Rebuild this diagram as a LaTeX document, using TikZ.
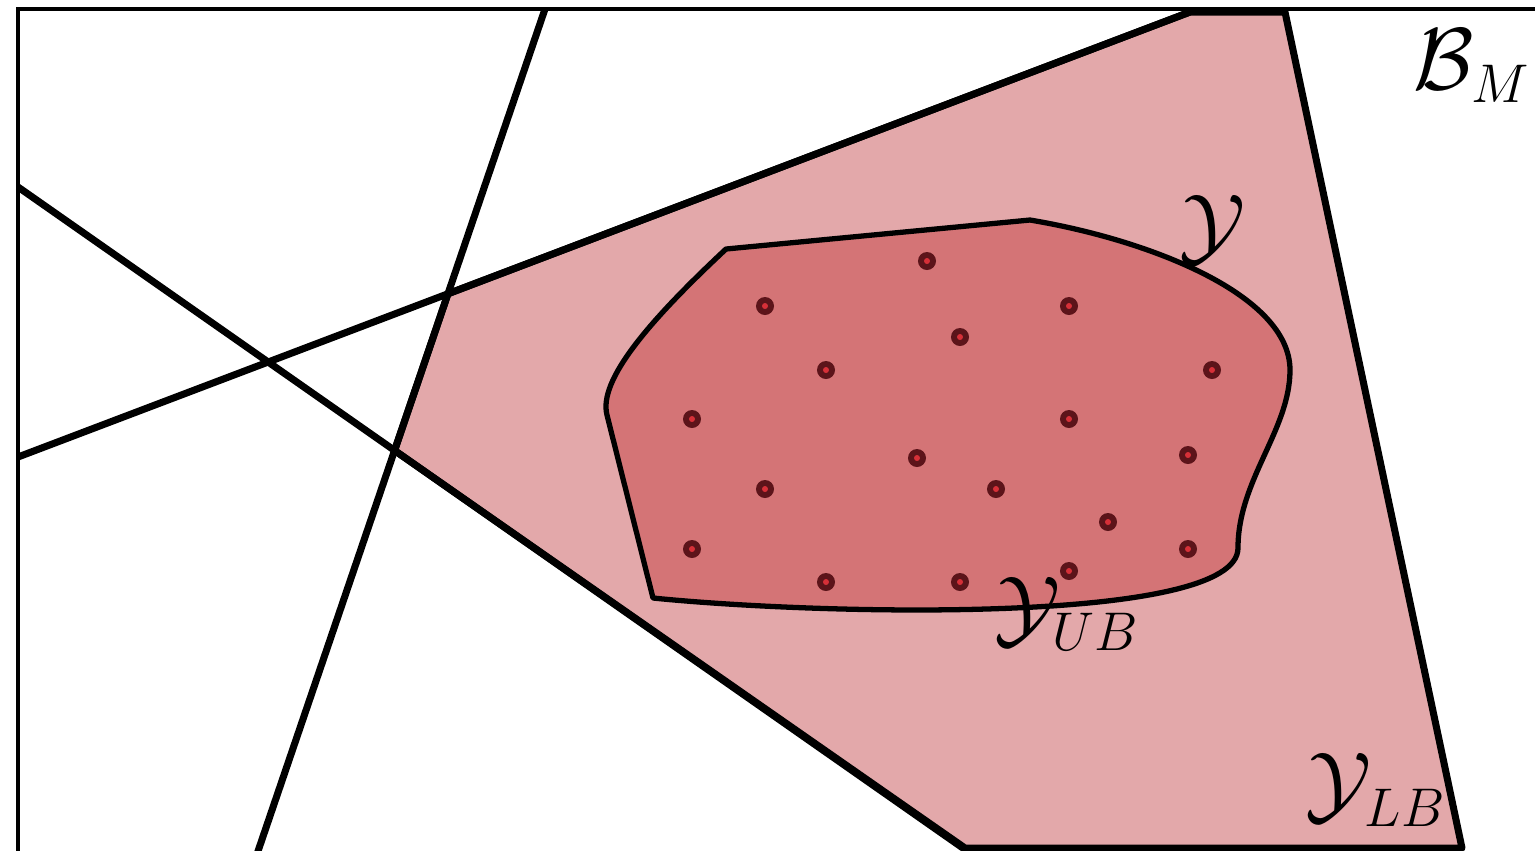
\documentclass[tikz,border=0pt]{standalone}
\usepackage{fix-cm}
\usepackage{amsmath}
\usepackage{amssymb}
\usetikzlibrary{calc}
\definecolor{lbpink}{RGB}{227,168,170}
\definecolor{ubred}{RGB}{212,116,118}
\definecolor{ptdark}{RGB}{92,20,26}
\definecolor{ptred}{RGB}{214,48,56}
\DeclareMathSizes{25}{25}{15.5}{12}

\begin{document}
\begin{tikzpicture}[
    x=0.01cm, y=-0.01cm,
    cut/.style={line width=2pt, color=black},
    frame/.style={line width=1.2pt, color=black},
    region/.style={line width=2pt, draw=black, fill=lbpink, line join=round},
    blob/.style={line width=1.5pt, draw=black, fill=ubred, line join=round},
    pt/.style={circle, fill=ptdark, minimum size=0.18cm, inner sep=0pt},
    ptin/.style={circle, fill=ptred, minimum size=0.06cm, inner sep=0pt},
    lab/.style={font=\fontsize{25}{30}\selectfont, inner sep=0pt}
  ]
    \useasboundingbox (0,0) rectangle (1535,850);
    % cutting lines
    \coordinate (a1) at (545,9);
    \coordinate (a2) at (255,860);
    \coordinate (b1) at (18,187);
    \coordinate (b2) at (980,860);
    \coordinate (c1) at (18,457);
    \coordinate (c2) at (1190,12);
    % outer region Y_LB
    \coordinate (l1) at (intersection of a1--a2 and c1--c2);
    \coordinate (l3) at (1285,12);
    \coordinate (l4) at (1462,848);
    \coordinate (l5) at (965,848);
    \coordinate (l6) at (intersection of a1--a2 and b1--b2);
    \path[region] (l1) -- (c2) -- (l3) -- (l4) -- (l5) -- (l6) -- cycle;
    \draw[cut] (a1) -- (a2);
    \draw[cut] (b1) -- (b2);
    \draw[cut] (c1) -- (c2);
    % frame of B_M
    \draw[frame] (18,870) -- (18,9) -- (1560,9);
    % inner region Y
    \draw[blob] (653,598) -- (607,415)
        .. controls (598,380) and (650,320) .. (726,249)
        -- (1030,220)
        .. controls (1150,240) and (1290,295) .. (1290,370)
        .. controls (1290,430) and (1238,480) .. (1238,548)
        .. controls (1238,625) and (820,615) .. cycle;
    % points of Y
    \foreach \px/\py [count=\i] in {927/261, 765/306, 1069/306, 960/337, 826/370,
        1212/370, 692/419, 1069/419, 917/458, 1188/455, 765/489, 996/489,
        1108/522, 692/549, 1188/549, 826/582, 960/582, 1069/571} {
      \node[pt] (p\i) at (\px,\py) {};
      \node[ptin] at (p\i) {};
    }
    % labels
    \node[lab] (bm) at (1472,66) {$\mathcal{B}_M$};
    \node[lab] (y) at (1212,230) {$\mathcal{Y}$};
    \node[lab] (yub) at (1067,614) {$\mathcal{Y}_{UB}$};
    \node[lab] (ylb) at (1376,790) {$\mathcal{Y}_{LB}$};
\end{tikzpicture}
\end{document}
